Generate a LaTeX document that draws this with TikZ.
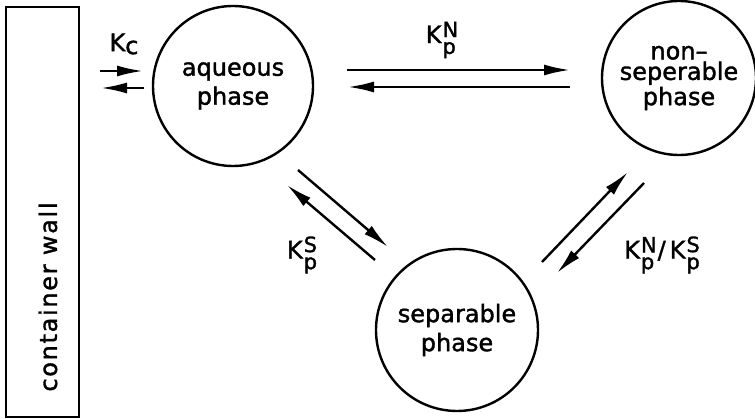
\documentclass[tikz,border=0pt]{standalone}
\usepackage{fontspec}
\setmainfont{DejaVu Sans}[FakeBold=1.5,AutoFakeBold=1.5]
\usetikzlibrary{arrows.meta}
\newcommand\Kscr[1]{K\kern1pt\raisebox{-0.45em}{\fontsize{21}{21}\selectfont\shortstack[l]{#1\\[2pt]p}}}
\begin{document}
\begin{tikzpicture}[x=1pt,y=-1pt,
  phase/.style={draw,circle,line width=2.4pt,inner sep=0pt,align=center,font=\fontsize{24}{29}\bfseries\selectfont},
  flow/.style={line width=2.4pt,-{Latex[length=26pt,width=11pt]}},
  klabel/.style={font=\fontsize{24}{24}\bfseries\selectfont,inner sep=0pt}]
\useasboundingbox (0,0) rectangle (755,419);
% container wall
\draw[line width=2.4pt] (6,7) rectangle (79,417);
\node[rotate=90,font=\fontsize{24}{24}\bfseries\addfontfeatures{LetterSpace=7}\selectfont] (walltext) at (48,297) {container wall};
% phases
\node[phase,minimum size=160pt] (aq) at (233,86) {aqueous\\phase};
\node[phase,minimum size=154pt] (ns) at (679,78) {\raisebox{-8pt}{\shortstack{non--\\[-1pt]seperable\\[-1pt]phase}}};
\node[phase,minimum size=162pt] (sep) at (457,330) {separable\\phase};
% arrow endpoints
\coordinate (c1a) at (100,71);  \coordinate (c1b) at (143,71);
\coordinate (c2a) at (144,88);  \coordinate (c2b) at (101,88);
\coordinate (n1a) at (347,70);  \coordinate (n1b) at (570,70);
\coordinate (n2a) at (570,87);  \coordinate (n2b) at (348,87);
\coordinate (s1a) at (298,170); \coordinate (s1b) at (388,247);
\coordinate (s2a) at (375,260); \coordinate (s2b) at (287,185);
\coordinate (m1a) at (542,262); \coordinate (m1b) at (628,172);
\coordinate (m2a) at (644,183); \coordinate (m2b) at (557,273);
\draw[flow] (c1a) -- (c1b);
\draw[flow] (c2a) -- (c2b);
\draw[flow] (n1a) -- (n1b);
\draw[flow] (n2a) -- (n2b);
\draw[flow] (s1a) -- (s1b);
\draw[flow] (s2a) -- (s2b);
\draw[flow] (m1a) -- (m1b);
\draw[flow] (m2a) -- (m2b);
% labels
\node[klabel] (kc) at (124,44) {K\raisebox{-3pt}{c}};
\node[klabel] (kpn) at (442,40) {\Kscr{N}};
\node[klabel] (kps) at (302,255) {\Kscr{S}};
\node[klabel] (kpns) at (662,255) {\Kscr{N}\kern1pt/\kern4pt\Kscr{S}};
\end{tikzpicture}
\end{document}
